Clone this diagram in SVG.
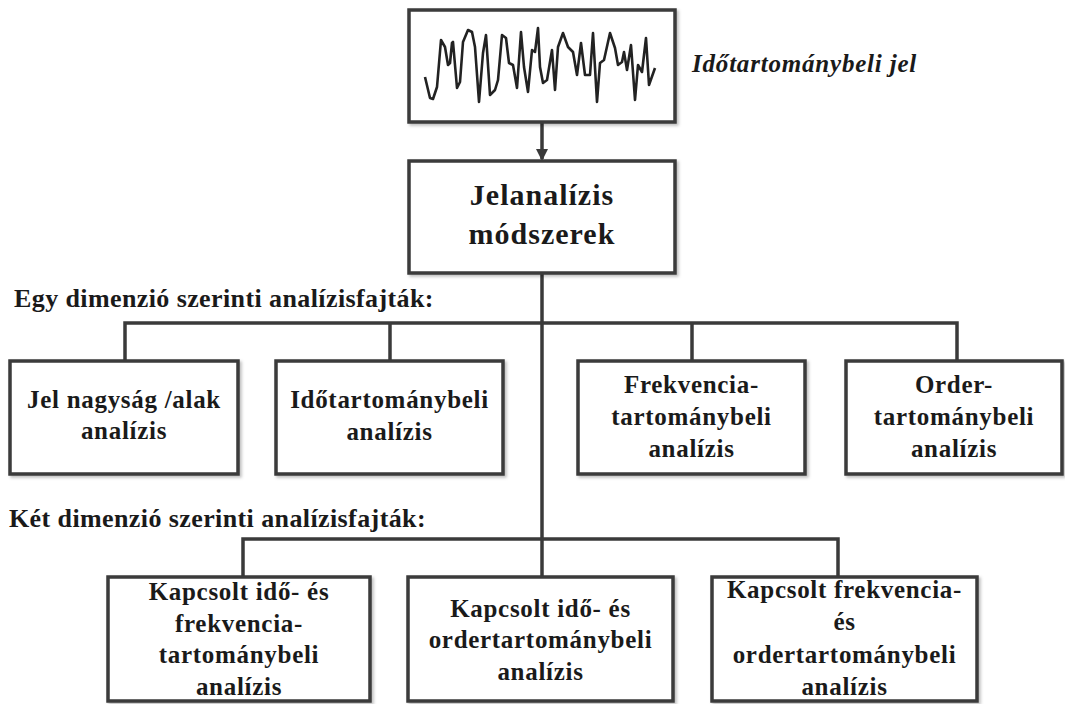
<svg xmlns="http://www.w3.org/2000/svg" width="1065" height="704" viewBox="0 0 1065 704">
<defs>
<style>
.box{fill:#fff;stroke:#3a3a3a;stroke-width:3.5}
.ln{fill:none;stroke:#3a3a3a;stroke-width:3.5}
.t{font-family:"Liberation Serif","Times New Roman",serif;font-weight:bold;fill:#1a1a1a;text-anchor:middle;font-size:25px;letter-spacing:0.7px}
.big{font-size:30px;letter-spacing:1px}
.hd{text-anchor:start;font-size:26px;letter-spacing:0.4px}
.it{font-style:italic;text-anchor:start;font-size:25px;letter-spacing:0.8px}
.wave{fill:none;stroke:#222;stroke-width:2.6;stroke-linejoin:round}
</style>
<filter id="sh" x="-5%" y="-5%" width="110%" height="115%">
<feDropShadow dx="2" dy="2" stdDeviation="1.5" flood-color="#000" flood-opacity="0.25"/>
</filter>
<marker id="ah" markerWidth="12" markerHeight="12" refX="10" refY="6" orient="auto" markerUnits="userSpaceOnUse">
<path d="M0,0 L12,6 L0,12 Z" fill="#3a3a3a"/>
</marker>
</defs>
<rect width="1065" height="704" fill="#fff"/>

<g id="connectors">
<line class="ln" x1="542" y1="122" x2="542" y2="159" marker-end="url(#ah)"/>
<line class="ln" x1="542" y1="273" x2="542" y2="577"/>
<polyline class="ln" points="125,361 125,323 957,323 957,361"/>
<line class="ln" x1="390" y1="323" x2="390" y2="361"/>
<line class="ln" x1="692" y1="323" x2="692" y2="361"/>
<polyline class="ln" points="243,577 243,539 838,539 838,577"/>
</g>

<g id="signal">
<rect class="box" x="409" y="10" width="266" height="112" filter="url(#sh)"/>
<polyline class="wave" points="425,77 430,98 433,99 437,87 441,40 445,47 448,65 450,63 452,43 453,42 457,88 460,82 463,42 468,30 472,32 475,47 479,102 483,53 486,35 490,95 495,90 498,80 502,35 506,38 509,63 513,65 517,88 521,32 524,67 528,92 532,50 535,52 538,28 540,67 543,83 547,80 552,50 555,90 558,47 563,33 568,47 573,52 577,75 581,43 585,75 590,75 593,33 597,102 600,63 604,60 610,33 615,48 618,65 622,62 624,52 627,70 631,45 635,100 638,65 642,72 646,38 649,85 655,68"/>
</g>
<text id="signal-label" class="t it" x="692" y="72">Időtartománybeli jel</text>

<g id="main">
<rect class="box" x="409" y="161" width="266" height="112" filter="url(#sh)"/>
<text class="t big" x="542" y="205">Jelanalízis</text>
<text class="t big" x="542" y="244">módszerek</text>
</g>

<text id="head1" class="t hd" x="14" y="307">Egy dimenzió szerinti analízisfajták:</text>
<text id="head2" class="t hd" x="9" y="527">Két dimenzió szerinti analízisfajták:</text>

<g id="n1">
<rect class="box" x="10" y="361" width="228" height="113" filter="url(#sh)"/>
<text class="t" x="124" y="408">Jel nagyság /alak</text>
<text class="t" x="124" y="439">analízis</text>
</g>
<g id="n2">
<rect class="box" x="276" y="361" width="227" height="113" filter="url(#sh)"/>
<text class="t" x="389.5" y="408">Időtartománybeli</text>
<text class="t" x="389.5" y="440">analízis</text>
</g>
<g id="n3">
<rect class="box" x="578" y="361" width="227" height="113" filter="url(#sh)"/>
<text class="t" x="691.5" y="393">Frekvencia-</text>
<text class="t" x="691.5" y="425">tartománybeli</text>
<text class="t" x="691.5" y="457">analízis</text>
</g>
<g id="n4">
<rect class="box" x="846" y="361" width="216" height="113" filter="url(#sh)"/>
<text class="t" x="954" y="393">Order-</text>
<text class="t" x="954" y="425">tartománybeli</text>
<text class="t" x="954" y="457">analízis</text>
</g>

<g id="m1">
<rect class="box" x="108" y="577" width="262" height="124" filter="url(#sh)"/>
<text class="t" x="239" y="600">Kapcsolt idő- és</text>
<text class="t" x="239" y="632">frekvencia-</text>
<text class="t" x="239" y="663">tartománybeli</text>
<text class="t" x="239" y="695">analízis</text>
</g>
<g id="m2">
<rect class="box" x="408" y="577" width="265" height="124" filter="url(#sh)"/>
<text class="t" x="540.5" y="617">Kapcsolt idő- és</text>
<text class="t" x="540.5" y="648">ordertartománybeli</text>
<text class="t" x="540.5" y="680">analízis</text>
</g>
<g id="m3">
<rect class="box" x="712" y="577" width="265" height="124" filter="url(#sh)"/>
<text class="t" x="844.5" y="598">Kapcsolt frekvencia-</text>
<text class="t" x="844.5" y="630">és</text>
<text class="t" x="844.5" y="663">ordertartománybeli</text>
<text class="t" x="844.5" y="695">analízis</text>
</g>
</svg>
